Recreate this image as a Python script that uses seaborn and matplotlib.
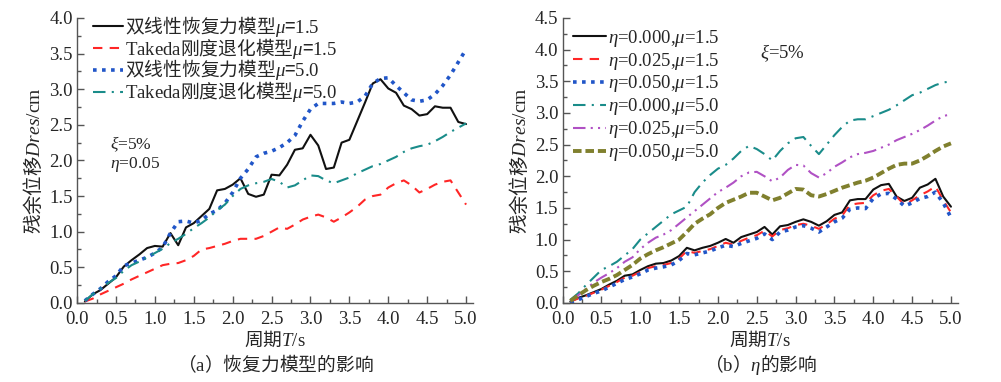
import numpy as np
import pandas as pd
import seaborn as sns
import matplotlib.pyplot as plt
from matplotlib.ticker import MultipleLocator, FormatStrFormatter

# period T (s)
period = [round(0.1 * i, 1) for i in range(1, 51)]

# (a) restoring force model
bilinear_mu15 = [0.02, 0.12, 0.18, 0.27, 0.36, 0.51, 0.60, 0.68, 0.77, 0.80,
                 0.79, 0.98, 0.81, 1.06, 1.12, 1.22, 1.32, 1.58, 1.60, 1.66,
                 1.75, 1.53, 1.49, 1.52, 1.80, 1.79, 1.94, 2.15, 2.17, 2.36,
                 2.21, 1.88, 1.90, 2.25, 2.29, 2.55, 2.81, 3.08, 3.14, 3.01,
                 2.95, 2.77, 2.72, 2.63, 2.65, 2.76, 2.74, 2.74, 2.54, 2.51]
takeda_mu15 = [0.02, 0.06, 0.12, 0.17, 0.22, 0.27, 0.33, 0.38, 0.43, 0.48,
               0.53, 0.55, 0.56, 0.60, 0.66, 0.75, 0.77, 0.80, 0.83, 0.87,
               0.90, 0.90, 0.90, 0.94, 1.00, 1.06, 1.04, 1.10, 1.17, 1.21,
               1.24, 1.20, 1.14, 1.20, 1.27, 1.35, 1.45, 1.50, 1.52, 1.62,
               1.68, 1.72, 1.65, 1.55, 1.60, 1.66, 1.70, 1.72, 1.55, 1.38]
bilinear_mu50 = [0.03, 0.12, 0.20, 0.30, 0.38, 0.52, 0.56, 0.60, 0.64, 0.70,
                 0.78, 0.98, 1.14, 1.15, 1.12, 1.16, 1.25, 1.30, 1.40, 1.55,
                 1.75, 1.88, 2.05, 2.10, 2.13, 2.18, 2.25, 2.35, 2.55, 2.72,
                 2.80, 2.80, 2.80, 2.82, 2.80, 2.82, 2.90, 3.08, 3.15, 3.16,
                 3.05, 2.95, 2.85, 2.83, 2.85, 2.93, 3.05, 3.20, 3.38, 3.56]
takeda_mu50 = [0.03, 0.12, 0.20, 0.28, 0.35, 0.45, 0.53, 0.58, 0.64, 0.70,
               0.76, 0.84, 0.90, 0.97, 1.05, 1.12, 1.20, 1.30, 1.38, 1.50,
               1.60, 1.65, 1.68, 1.70, 1.74, 1.70, 1.62, 1.65, 1.72, 1.79,
               1.78, 1.72, 1.68, 1.72, 1.76, 1.82, 1.87, 1.92, 1.95, 2.00,
               2.05, 2.12, 2.17, 2.20, 2.22, 2.27, 2.33, 2.40, 2.46, 2.52]

# (b) effect of eta
eta000_mu15 = [0.02, 0.08, 0.12, 0.17, 0.22, 0.29, 0.35, 0.43, 0.45, 0.52,
               0.58, 0.62, 0.63, 0.67, 0.74, 0.87, 0.83, 0.87, 0.90, 0.95,
               1.01, 0.95, 1.04, 1.08, 1.12, 1.20, 1.08, 1.21, 1.23, 1.28,
               1.32, 1.28, 1.22, 1.29, 1.39, 1.43, 1.62, 1.64, 1.64, 1.79,
               1.86, 1.88, 1.68, 1.61, 1.66, 1.82, 1.87, 1.96, 1.68, 1.52]
eta025_mu15 = [0.02, 0.07, 0.11, 0.16, 0.21, 0.27, 0.33, 0.40, 0.43, 0.49,
               0.55, 0.58, 0.60, 0.63, 0.70, 0.82, 0.79, 0.82, 0.85, 0.90,
               0.95, 0.92, 0.98, 1.03, 1.07, 1.14, 1.05, 1.15, 1.18, 1.23,
               1.25, 1.22, 1.17, 1.24, 1.33, 1.38, 1.55, 1.57, 1.58, 1.70,
               1.77, 1.80, 1.68, 1.55, 1.62, 1.70, 1.76, 1.84, 1.62, 1.43]
eta050_mu15 = [0.01, 0.05, 0.10, 0.15, 0.19, 0.25, 0.31, 0.37, 0.41, 0.46,
               0.52, 0.55, 0.57, 0.60, 0.67, 0.78, 0.76, 0.79, 0.82, 0.87,
               0.91, 0.89, 0.94, 0.98, 1.02, 1.09, 1.00, 1.12, 1.15, 1.20,
               1.22, 1.18, 1.12, 1.20, 1.28, 1.34, 1.48, 1.50, 1.49, 1.65,
               1.72, 1.73, 1.64, 1.53, 1.58, 1.65, 1.68, 1.75, 1.58, 1.35]
eta000_mu50 = [0.05, 0.15, 0.28, 0.40, 0.52, 0.58, 0.65, 0.75, 0.85, 1.00,
               1.10, 1.20, 1.30, 1.40, 1.46, 1.52, 1.75, 1.90, 2.02, 2.12,
               2.18, 2.28, 2.40, 2.48, 2.43, 2.35, 2.25, 2.40, 2.52, 2.60,
               2.62, 2.48, 2.35, 2.50, 2.65, 2.78, 2.88, 2.90, 2.90, 2.95,
               3.00, 3.05, 3.12, 3.20, 3.28, 3.32, 3.38, 3.44, 3.48, 3.50]
eta025_mu50 = [0.04, 0.12, 0.22, 0.32, 0.40, 0.47, 0.55, 0.65, 0.72, 0.85,
               0.95, 1.03, 1.08, 1.15, 1.25, 1.35, 1.45, 1.55, 1.65, 1.75,
               1.82, 1.90, 2.00, 2.06, 2.07, 2.00, 1.92, 1.98, 2.10, 2.18,
               2.17, 2.05, 1.98, 2.05, 2.15, 2.22, 2.30, 2.35, 2.37, 2.40,
               2.45, 2.50, 2.57, 2.62, 2.67, 2.73, 2.80, 2.88, 2.95, 2.98]
eta050_mu50 = [0.03, 0.12, 0.20, 0.27, 0.33, 0.38, 0.44, 0.52, 0.60, 0.70,
               0.77, 0.83, 0.88, 0.94, 1.00, 1.12, 1.25, 1.33, 1.40, 1.50,
               1.58, 1.63, 1.68, 1.74, 1.74, 1.68, 1.62, 1.66, 1.73, 1.80,
               1.79, 1.70, 1.68, 1.72, 1.77, 1.82, 1.86, 1.90, 1.93, 1.98,
               2.05, 2.12, 2.18, 2.20, 2.20, 2.25, 2.32, 2.40, 2.47, 2.52]

labels_a = [r"双线性恢复力模型$\mu$=$\mathsf{1.5}$",
            r"$\mathsf{Takeda}$刚度退化模型$\mu$=$\mathsf{1.5}$",
            r"双线性恢复力模型$\mu$=$\mathsf{5.0}$",
            r"$\mathsf{Takeda}$刚度退化模型$\mu$=$\mathsf{5.0}$"]
labels_b = [r"$\eta$=0.000,$\mu$=1.5", r"$\eta$=0.025,$\mu$=1.5",
            r"$\eta$=0.050,$\mu$=1.5", r"$\eta$=0.000,$\mu$=5.0",
            r"$\eta$=0.025,$\mu$=5.0", r"$\eta$=0.050,$\mu$=5.0"]

sns.set_style("ticks")
plt.rcParams['font.family'] = ['Liberation Serif', 'Noto Sans CJK SC']
plt.rcParams['mathtext.fontset'] = 'custom'
plt.rcParams['mathtext.it'] = 'Liberation Serif:italic'
plt.rcParams['mathtext.rm'] = 'Liberation Serif'
plt.rcParams['mathtext.sf'] = 'Liberation Serif'
plt.rcParams['axes.unicode_minus'] = False

cjk = 'Noto Sans CJK SC'
fs = 13.5

# line styles: color, dash pattern (None = solid), width
black = ('#111111', None, 1.5)
red = ('#ff2626', (4.5, 3.5), 1.5)
blue = ('#2156c8', (1, 1.5), 2.6)
teal = ('#1a8c8a', (6, 3, 1, 3), 1.5)
purple = ('#b051c4', (6, 2.5, 1, 2.5, 1, 2.5), 1.5)
olive = ('#80802e', (2.2, 1.0), 2.8)

fig = plt.figure(figsize=(10.01, 3.82), dpi=100)
ax1 = fig.add_axes([0.077, 0.207, 0.3956, 0.746])
ax2 = fig.add_axes([0.562, 0.207, 0.395, 0.746])


def draw(ax, ys, styles, labels):
    for y, (c, d, w), lab in zip(ys, styles, labels):
        sns.lineplot(x=period, y=y, ax=ax, color=c, linewidth=w, label=lab)
        ln = ax.lines[-1]
        if d is not None:
            ln.set_dashes(d)
            ln.set_dash_capstyle('butt')


draw(ax1, [bilinear_mu15, takeda_mu15, bilinear_mu50, takeda_mu50],
     [black, red, blue, teal], labels_a)
draw(ax2, [eta000_mu15, eta025_mu15, eta050_mu15, eta000_mu50, eta025_mu50, eta050_mu50],
     [black, red, blue, teal, purple, olive], labels_b)

for ax, ymax in [(ax1, 4.0), (ax2, 4.5)]:
    ax.set_xlim(0, 5.09)
    ax.set_ylim(0, ymax)
    ax.xaxis.set_major_locator(MultipleLocator(0.5))
    ax.xaxis.set_minor_locator(MultipleLocator(0.25))
    ax.yaxis.set_major_locator(MultipleLocator(0.5))
    ax.yaxis.set_minor_locator(MultipleLocator(0.25))
    ax.xaxis.set_major_formatter(FormatStrFormatter('%.1f'))
    ax.yaxis.set_major_formatter(FormatStrFormatter('%.1f'))
    ax.tick_params(which='both', direction='in', labelsize=fs, color='#555555')
    ax.tick_params(axis='x', pad=6)
    ax.tick_params(axis='y', pad=3)
    ax.tick_params(which='major', length=5, width=1)
    ax.tick_params(which='minor', length=3, width=1)
    for s in ['top', 'right']:
        ax.spines[s].set_visible(False)
    for s in ['left', 'bottom']:
        ax.spines[s].set_color('#555555')
        ax.spines[s].set_linewidth(1)
    ax.set_xlabel(r"周期$T\mathsf{/s}$", fontsize=13.5, family=cjk, labelpad=1)
    ax.set_ylabel(r"残余位移$\mathit{Dres}\mathsf{/cm}$", fontsize=14, family=cjk, labelpad=3)

ax1.legend(loc='upper left', bbox_to_anchor=(0.0215, 1.041), frameon=False,
           prop={'family': cjk, 'size': fs}, handlelength=1.6, handletextpad=0.1,
           labelspacing=-0.17, borderaxespad=0)
ax2.legend(loc='upper left', bbox_to_anchor=(0.007, 0.992), frameon=False,
           prop={'size': fs}, handlelength=1.76, handletextpad=0.1,
           labelspacing=0.1, borderaxespad=0)

ax1.text(0.083, 0.558, r"$\xi$=5%", transform=ax1.transAxes, fontsize=12.5, va='center')
ax1.text(0.083, 0.484, r"$\eta$=0.05", transform=ax1.transAxes, fontsize=12.5, va='center')
ax2.text(0.5, 0.877, r"$\xi$=5%", transform=ax2.transAxes, fontsize=fs, va='center')

fig.text(0.275, 0.045, r"（$\mathsf{a}$）恢复力模型的影响", ha='center', va='center', fontsize=13.5, family=cjk)
fig.text(0.76, 0.045, r"（$\mathsf{b}$）$\eta$的影响", ha='center', va='center', fontsize=13.5, family=cjk)

fig.savefig('out.png', dpi=100)
